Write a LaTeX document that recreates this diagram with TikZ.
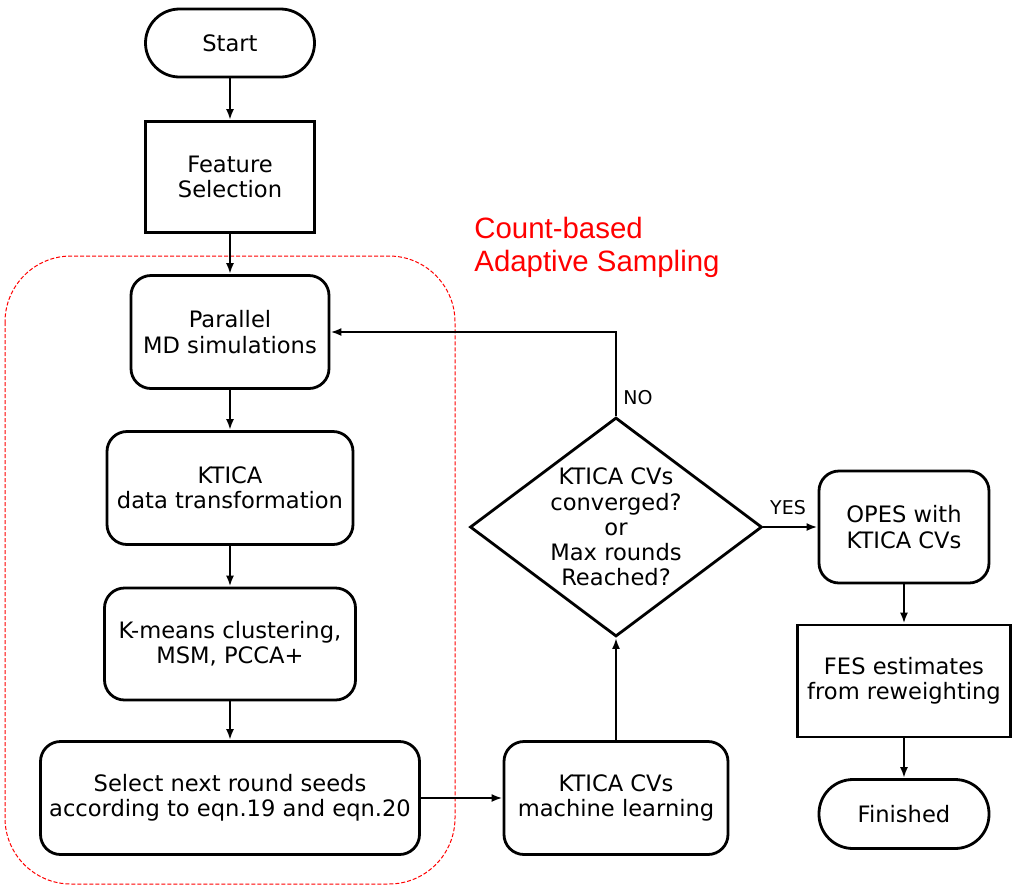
\documentclass[tikz,border=0pt]{standalone}
\usepackage{fontspec}
\setmainfont{DejaVu Sans}
\newfontfamily\capfont{Liberation Sans}
\usetikzlibrary{arrows.meta,shapes.geometric}

\begin{document}
\begin{tikzpicture}[x=0.5pt,y=-0.5pt,
  font=\fontsize{11.3}{12.6}\selectfont,
  box/.style={draw,line width=1.4pt,align=center,inner sep=0pt},
  rbox/.style={box,rounded corners=10pt},
  term/.style={box,rounded corners=17pt},
  decide/.style={box,diamond,aspect=1.33,minimum width=146pt,minimum height=109.5pt},
  arr/.style={line width=1.3pt,-{Latex[length=5.5pt,width=4pt]}},
  lbl/.style={font=\fontsize{9.5}{11}\selectfont,inner sep=1pt}]
  \useasboundingbox (0,0) rectangle (1019,890);
  \draw[red,line width=0.5pt,dash pattern=on 2pt off 1pt,rounded corners=33pt] (5,256) rectangle (455,884);
  \node[anchor=west,align=left,text=red,inner sep=0pt,font=\capfont\fontsize{14.7}{16.5}\selectfont] (title) at (474,247) {Count-based\\Adaptive Sampling};
  \node[term,minimum width=84.5pt,minimum height=34pt] (start) at (230,43) {Start};
  \node[box,minimum width=84.5pt,minimum height=55.5pt] (feat) at (230,177) {Feature\\Selection};
  \node[rbox,minimum width=99pt,minimum height=56.5pt] (par) at (230,332) {Parallel\\MD simulations};
  \node[rbox,minimum width=123pt,minimum height=56.5pt] (ktica) at (230,488) {KTICA\\data transformation};
  \node[rbox,minimum width=125.5pt,minimum height=56pt] (kmeans) at (230,644) {K-means clustering,\\MSM, PCCA+};
  \node[rbox,minimum width=189.5pt,minimum height=56.5pt] (seeds) at (230,798) {Select next round seeds\\according to eqn.19 and eqn.20};
  \node[rbox,minimum width=112pt,minimum height=56.5pt] (ml) at (616,798) {KTICA CVs\\machine learning};
  \node[decide] (conv) at (616,527) {KTICA CVs\\converged?\\or\\Max rounds\\Reached?};
  \node[rbox,minimum width=85pt,minimum height=56pt] (opes) at (904,527) {OPES with\\KTICA CVs};
  \node[box,minimum width=106.5pt,minimum height=56pt] (fes) at (904,681) {FES estimates\\from reweighting};
  \node[term,minimum width=85pt,minimum height=34.5pt] (fin) at (904,814) {Finished};
  \draw[arr] (start) -- (feat);
  \draw[arr] (feat) -- (par);
  \draw[arr] (par) -- (ktica);
  \draw[arr] (ktica) -- (kmeans);
  \draw[arr] (kmeans) -- (seeds);
  \draw[arr] (seeds) -- (ml);
  \draw[arr] (ml) -- (conv);
  \draw[arr] (conv.north) |- (par.east);
  \draw[arr] (conv) -- (opes);
  \draw[arr] (opes) -- (fes);
  \draw[arr] (fes) -- (fin);
  \node[lbl,anchor=west] (no) at (621,398) {NO};
  \node[lbl] (yes) at (788,508) {YES};
\end{tikzpicture}
\end{document}
